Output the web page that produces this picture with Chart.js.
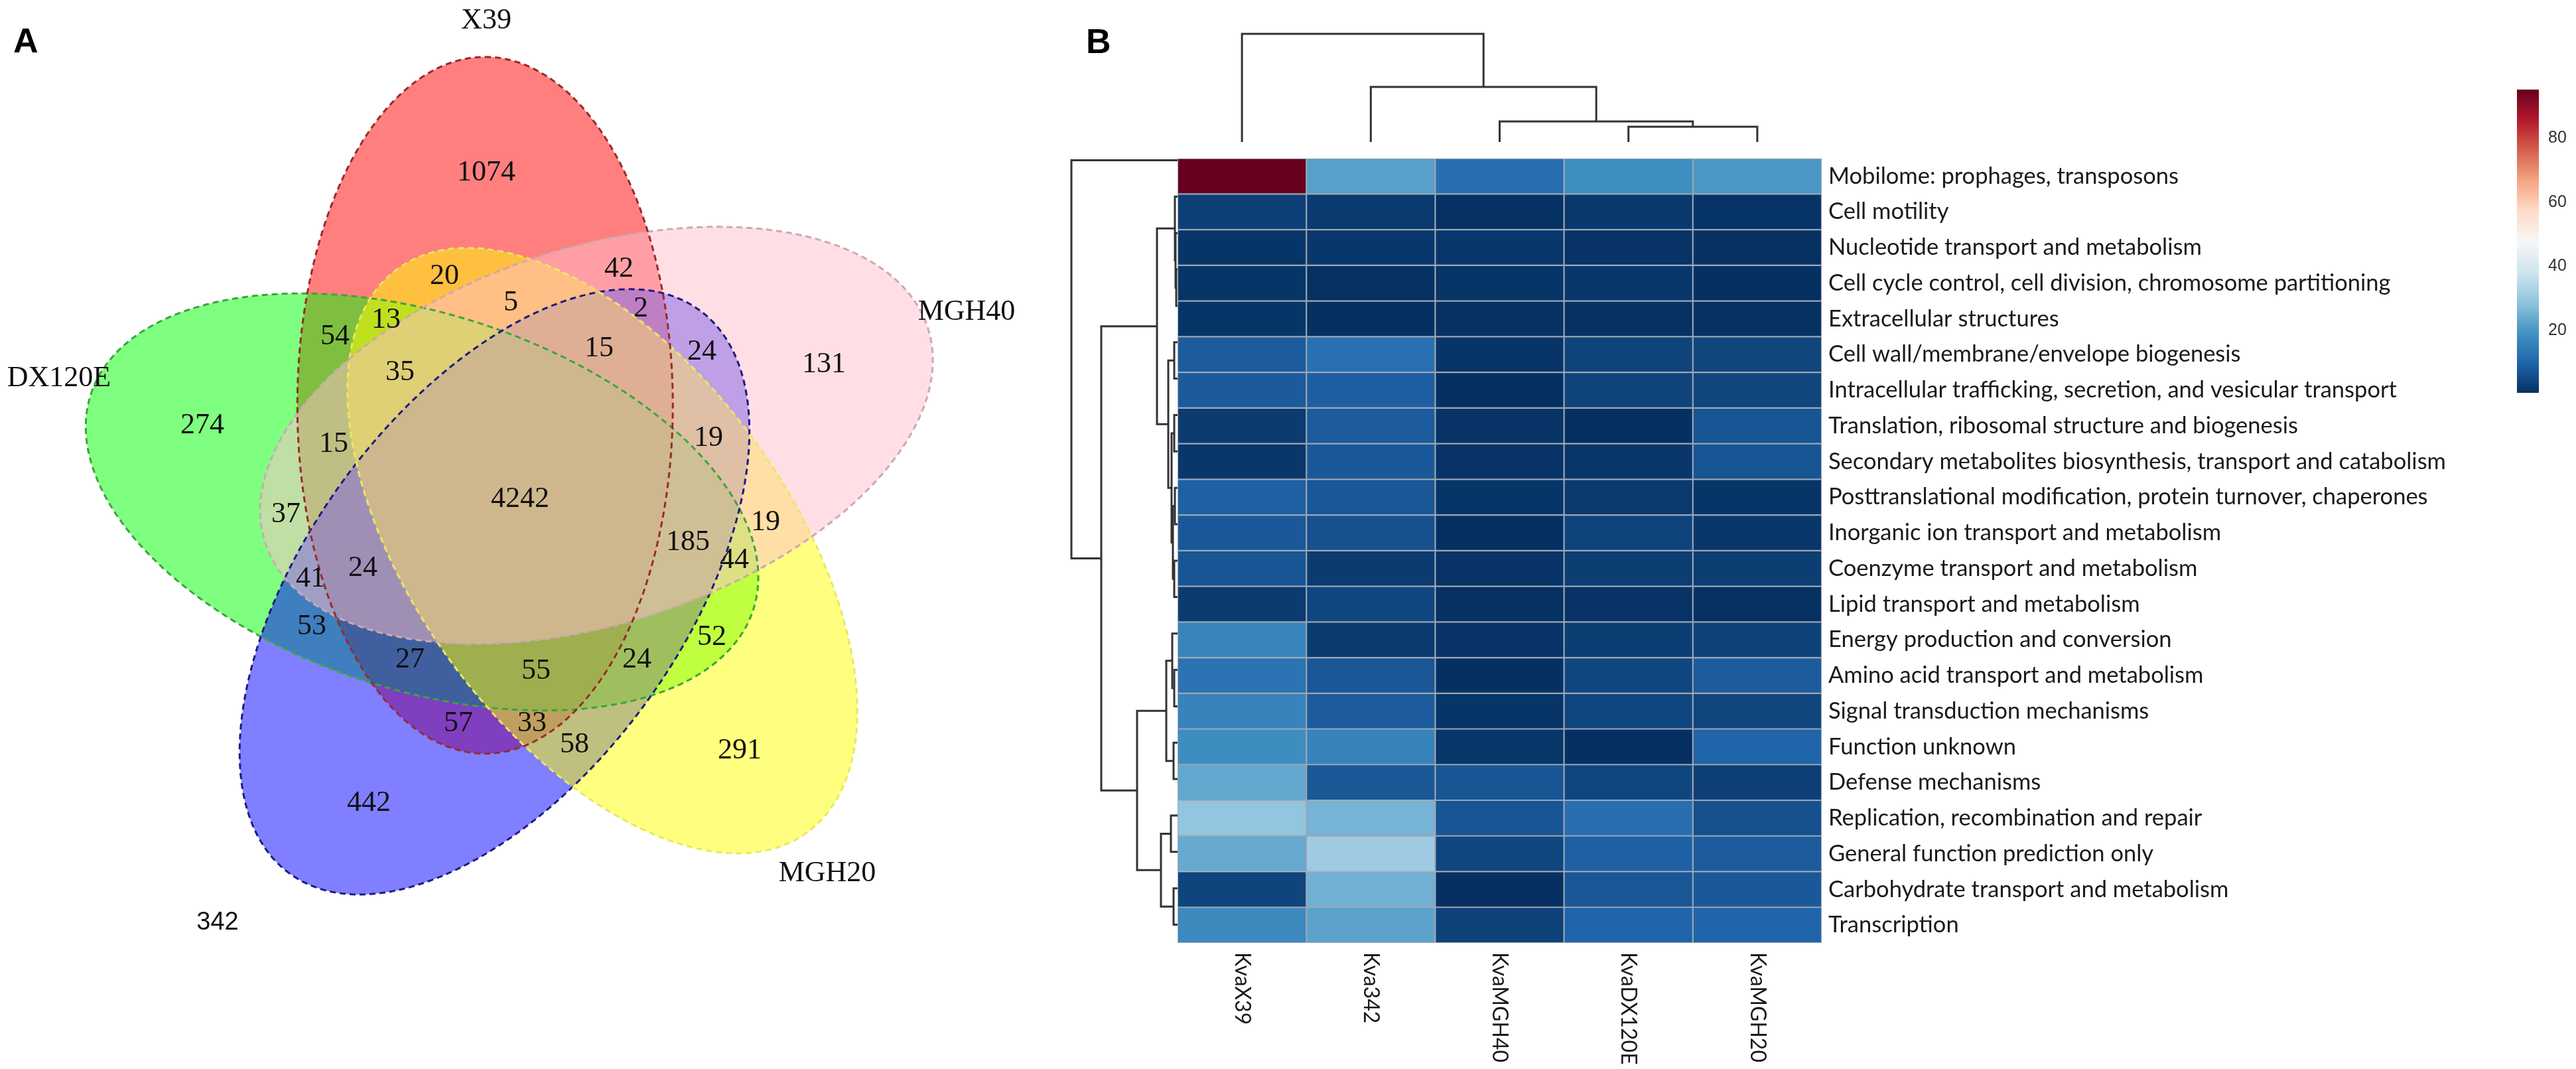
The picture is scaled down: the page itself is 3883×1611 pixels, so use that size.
<!DOCTYPE html>
<html>
<head>
<meta charset="utf-8">
<script src="https://cdn.jsdelivr.net/npm/chart.js@4.4.1/dist/chart.umd.min.js"></script>
<style>
html,body{margin:0;padding:0;background:#ffffff;}
body{width:3883px;height:1611px;position:relative;overflow:hidden;}
canvas{position:absolute;display:block;}
.panel{position:absolute;font-family:"Liberation Sans",Arial,sans-serif;font-weight:bold;font-size:52px;line-height:52px;color:#000;}
</style>
</head>
<body>
<canvas id="venn"></canvas>
<canvas id="colDendro"></canvas>
<canvas id="rowDendro"></canvas>
<canvas id="heat"></canvas>
<canvas id="cbar"></canvas>
<div class="panel" style="left:20px;top:35px">A</div>
<div class="panel" style="left:1637px;top:36px">B</div>
<script>
// ================= DATA =================
// Panel A: five-set Venn diagram
const vennSetNames = ['X39', 'MGH40', 'MGH20', '342', 'DX120E'];
const vennRegionCounts = [1074, 131, 291, 442, 274, 42, 20, 5, 2, 54, 13, 15, 24, 35, 15, 19,
                          4242, 37, 19, 185, 44, 41, 24, 53, 52, 27, 24, 55, 57, 33, 58];

// Panel B: heatmap
const sampleNames = ['KvaX39', 'Kva342', 'KvaMGH40', 'KvaDX120E', 'KvaMGH20'];
const cogCategories = [
  'Mobilome: prophages, transposons',
  'Cell motility',
  'Nucleotide transport and metabolism',
  'Cell cycle control, cell division, chromosome partitioning',
  'Extracellular structures',
  'Cell wall/membrane/envelope biogenesis',
  'Intracellular trafficking, secretion, and vesicular transport',
  'Translation, ribosomal structure and biogenesis',
  'Secondary metabolites biosynthesis, transport and catabolism',
  'Posttranslational modification, protein turnover, chaperones',
  'Inorganic ion transport and metabolism',
  'Coenzyme transport and metabolism',
  'Lipid transport and metabolism',
  'Energy production and conversion',
  'Amino acid transport and metabolism',
  'Signal transduction mechanisms',
  'Function unknown',
  'Defense mechanisms',
  'Replication, recombination and repair',
  'General function prediction only',
  'Carbohydrate transport and metabolism',
  'Transcription'
];
const valKvaX39    = [95, 3.3, 1.6, 1.5, 1.6, 8.3, 8.0, 2.6, 1.9, 9.1, 7.7, 7.2, 2.6, 16.6, 12.9, 16.2, 18.3, 23.3, 29.0, 23.7, 4.2, 17.5];
const valKva342    = [22, 2.5, 2.0, 0.9, 0.8, 12.2, 8.9, 8.3, 7.8, 7.5, 6.3, 2.6, 4.5, 2.4, 7.5, 8.3, 16.2, 7.5, 25.6, 30.8, 25.0, 22.6];
const valKvaMGH40  = [12, 0.9, 1.9, 1.6, 0.9, 1.5, 0.8, 1.3, 1.3, 1.6, 0.8, 1.3, 0.9, 1.3, 0.8, 1.5, 1.7, 7.2, 7.2, 4.5, 0.7, 3.6];
const valKvaDX120E = [18.5, 2.3, 1.3, 1.9, 0.9, 4.0, 4.0, 0.8, 1.9, 2.4, 4.0, 3.0, 1.3, 3.0, 4.5, 4.5, 0.7, 4.5, 12.0, 9.1, 7.5, 9.8];
const valKvaMGH20  = [20.5, 1.4, 1.0, 0.8, 0.9, 4.3, 4.3, 7.2, 7.2, 1.6, 1.9, 3.0, 0.9, 3.6, 8.3, 4.3, 9.8, 3.3, 6.3, 8.3, 7.8, 9.7];
const colorbarRange = [0.7, 95];
const colorbarTicks = [20, 40, 60, 80];
// dendrograms: [mergeHeight, left, right], leaves = column / row index
const colTree = [163, 0, [83, 1, [31, 2, [23, 3, 4]]]];
const rowTree = [160, 0,
  [115,
    [31, [4, 1, [3, 2, [2, 3, 4]]],
         [14, [5, 5, 6], [9, [5, 7, 8], [7, [4, 9, 10], [5, 11, 12]]]]],
    [61, [17, [8, 13, [5, 14, 15]], [6, 16, 17]],
         [25, [10, 18, 19], [6, 20, 21]]]]];

// ================= LAYOUT / STYLE =================
const vennGeom = {cx: 784, cy: 749, r: 148, centerAngle0: -110.9, axisAngle0: -90, semiMajor: 525, semiMinor: 283};
const vennLabelPos = [[733,257],[1242,546],[1115,1128],[556,1207],[305,638],[933,402],[670,413],[770,453],[966,462],
  [505,504],[582,479],[903,522],[1058,527],[603,558],[503,666],[1068,657],[784,749],[431,772],[1154,784],[1037,814],
  [1107,841],[468,869],[547,853],[470,941],[1073,957],[618,991],[960,991],[808,1008],[691,1087],[802,1087],[866,1119]];
const vennSetLabelPos = [[733,28],[1457,467],[1247,1313],[328,1387],[89,567]];
const vennFill = {X39:'rgba(255,0,0,0.5)', MGH40:'rgba(255,192,203,0.5)', MGH20:'rgba(255,255,0,0.5)', '342':'rgba(0,0,255,0.5)', DX120E:'rgba(0,255,0,0.5)'};
const vennLine = {X39:'#9a2a2a', MGH40:'#c9aab2', MGH20:'#e8e860', '342':'#1c1c80', DX120E:'#3aa63a'};
const vennFillOrder = {X39:10, DX120E:9, '342':8, MGH20:7, MGH40:6};
const HM = {left:1775, top:214, right:2746, bottom:1421};

const rdbuStops = ['#053061','#2166ac','#4393c3','#92c5de','#d1e5f0','#f7f7f7','#fddbc7','#f4a582','#d6604d','#b2182b','#67001f'];

function hexToRgb(h){ return [parseInt(h.substr(1,2),16), parseInt(h.substr(3,2),16), parseInt(h.substr(5,2),16)]; }
function rdbu(v){
  let t = (v - colorbarRange[0]) / (colorbarRange[1] - colorbarRange[0]);
  t = Math.max(0, Math.min(1, t));
  const p = t * (rdbuStops.length - 1);
  const i = Math.min(rdbuStops.length - 2, Math.floor(p));
  const f = p - i;
  const a = hexToRgb(rdbuStops[i]), b = hexToRgb(rdbuStops[i+1]);
  return 'rgb(' + a.map((c,k)=>Math.round(c + (b[k]-c)*f)).join(',') + ')';
}

function placeCanvas(id, left, top, w, h){
  const c = document.getElementById(id);
  c.width = w; c.height = h;
  c.style.left = left + 'px'; c.style.top = top + 'px';
  c.style.width = w + 'px'; c.style.height = h + 'px';
  return c;
}
const noPlug = {legend:{display:false}, tooltip:{enabled:false}, title:{display:false}};

// ================= PANEL A : VENN =================
function ellipsePoints(k){
  const ca = (vennGeom.centerAngle0 + 72*k) * Math.PI/180;
  const cx = vennGeom.cx + vennGeom.r*Math.cos(ca), cy = vennGeom.cy + vennGeom.r*Math.sin(ca);
  const phi = (vennGeom.axisAngle0 + 72*k) * Math.PI/180;
  const pts = [];
  const N = 240;
  for (let i = 0; i <= N; i++){
    const t = 2*Math.PI*i/N;
    const u = vennGeom.semiMajor*Math.cos(t), w = vennGeom.semiMinor*Math.sin(t);
    pts.push({x: cx + u*Math.cos(phi) - w*Math.sin(phi), y: cy + u*Math.sin(phi) + w*Math.cos(phi)});
  }
  return pts;
}

const textLabelPlugin = {
  id: 'textLabels',
  afterDatasetsDraw(chart){
    const ctx = chart.ctx;
    chart.data.datasets.forEach((ds, di) => {
      if (!ds.textLabels) return;
      const meta = chart.getDatasetMeta(di);
      ctx.save();
      ctx.font = ds.textFont;
      ctx.fillStyle = ds.textColor;
      ctx.textAlign = 'center';
      ctx.textBaseline = 'alphabetic';
      meta.data.forEach((el, i) => { ctx.fillText(String(ds.textLabels[i]), el.x, el.y + ds.textShift); });
      ctx.restore();
    });
  }
};

const vennDatasets = [];
vennSetNames.forEach((name, k) => {
  const pts = ellipsePoints(k);
  vennDatasets.push({type:'line', label:name + ' fill', data: pts, fill:'shape', backgroundColor: vennFill[name],
    borderWidth:0, pointRadius:0, tension:0, order: vennFillOrder[name], clip:false});
});
vennSetNames.forEach((name, k) => {
  const pts = ellipsePoints(k);
  vennDatasets.push({type:'line', label:name + ' border', data: pts, fill:false, borderColor: vennLine[name],
    borderWidth:3, borderDash:[9,6], pointRadius:0, tension:0, order: 1 + k*0.1, clip:false});
});
vennDatasets.push({type:'line', showLine:false, label:'counts', pointRadius:0, order:0,
  data: vennLabelPos.map(p => ({x:p[0], y:p[1]})), textLabels: vennRegionCounts,
  textFont:'44px "Liberation Serif", "Times New Roman", serif', textColor:'#111', textShift:15});
vennDatasets.push({type:'line', showLine:false, label:'sets', pointRadius:0, order:0,
  data: vennSetLabelPos.slice(0,3).concat([vennSetLabelPos[4]]).map(p => ({x:p[0], y:p[1]})),
  textLabels: [vennSetNames[0], vennSetNames[1], vennSetNames[2], vennSetNames[4]],
  textFont:'44px "Liberation Serif", "Times New Roman", serif', textColor:'#111', textShift:15});
vennDatasets.push({type:'line', showLine:false, label:'set342', pointRadius:0, order:0,
  data: [{x:vennSetLabelPos[3][0], y:vennSetLabelPos[3][1]}], textLabels: [vennSetNames[3]],
  textFont:'38px "Liberation Sans", Arial, sans-serif', textColor:'#111', textShift:14});

new Chart(placeCanvas('venn', 0, 0, 1650, 1611), {
  type:'line',
  data:{datasets: vennDatasets},
  options:{responsive:false, animation:false, devicePixelRatio:1, events:[],
    layout:{padding:0},
    scales:{x:{type:'linear', min:0, max:1650, display:false}, y:{type:'linear', min:0, max:1611, reverse:true, display:false}},
    plugins: noPlug},
  plugins:[textLabelPlugin]
});

// ================= PANEL B : DENDROGRAMS =================
function buildSegments(tree, out){
  if (typeof tree === 'number') return {pos: tree + 0.5, h: 0};
  const [h, a, b] = tree;
  const L = buildSegments(a, out), R = buildSegments(b, out);
  out.push([{p:L.pos, h:L.h}, {p:L.pos, h:h}, {p:R.pos, h:h}, {p:R.pos, h:R.h}]);
  return {pos:(L.pos + R.pos)/2, h:h};
}
const lineStyle = {borderColor:'#333333', borderWidth:3, pointRadius:0, tension:0, fill:false, clip:false};

const colSegs = []; buildSegments(colTree, colSegs);
new Chart(placeCanvas('colDendro', HM.left - 6, 51 - 6, (HM.right - HM.left) + 12, (HM.top - 51) + 12), {
  type:'line',
  data:{datasets: colSegs.map(s => Object.assign({data: s.map(q => ({x:q.p, y:q.h}))}, lineStyle))},
  options:{responsive:false, animation:false, devicePixelRatio:1, events:[], layout:{padding:6},
    scales:{x:{type:'linear', min:0, max:sampleNames.length, display:false}, y:{type:'linear', min:0, max:colTree[0], display:false}},
    plugins: noPlug}
});

const rowSegs = []; buildSegments(rowTree, rowSegs);
new Chart(placeCanvas('rowDendro', 1615 - 6, HM.top - 6, (HM.left - 1615) + 12, (HM.bottom - HM.top) + 12), {
  type:'line',
  data:{datasets: rowSegs.map(s => Object.assign({data: s.map(q => ({x:q.h, y:q.p}))}, lineStyle))},
  options:{responsive:false, animation:false, devicePixelRatio:1, events:[], layout:{padding:6},
    scales:{x:{type:'linear', min:0, max:rowTree[0], reverse:true, display:false},
            y:{type:'linear', min:0, max:cogCategories.length, reverse:true, display:false}},
    plugins: noPlug}
});

// ================= PANEL B : HEATMAP =================
const heatValues = [valKvaX39, valKva342, valKvaMGH40, valKvaDX120E, valKvaMGH20];
const labelFont = {family:'Lato', size:34.5};
const colLabelFont = {family:'Lato', size:32};

const colLabelPlugin = {
  id:'colLabels',
  afterDraw(chart){
    const ctx = chart.ctx, xs = chart.scales.x, ca = chart.chartArea;
    ctx.save();
    ctx.font = colLabelFont.size + 'px ' + colLabelFont.family;
    ctx.fillStyle = '#1a1a1a';
    ctx.textAlign = 'left';
    ctx.textBaseline = 'middle';
    sampleNames.forEach((s, c) => {
      ctx.save();
      ctx.translate(xs.getPixelForValue(c + 0.5), ca.bottom + 14);
      ctx.rotate(Math.PI/2);
      ctx.fillText(s, 0, 0);
      ctx.restore();
    });
    ctx.restore();
  }
};

const heatLeft = HM.left - 6, heatTop = HM.top - 6, heatW = 3760 - heatLeft, heatH = 1611 - heatTop;
new Chart(placeCanvas('heat', heatLeft, heatTop, heatW, heatH), {
  type:'bar',
  data:{labels: cogCategories,
    datasets: sampleNames.map((s, c) => ({
      label: s,
      data: cogCategories.map(() => [c, c + 1]),
      backgroundColor: heatValues[c].map(rdbu),
      borderColor:'#9ea6b4', borderWidth:1.4, borderSkipped:false,
      barPercentage:1, categoryPercentage:1, grouped:false
    }))},
  options:{indexAxis:'y', responsive:false, animation:false, devicePixelRatio:1, events:[],
    layout:{padding:{left:6, top:6, right:0, bottom: heatH - 6 - (HM.bottom - HM.top)}},
    scales:{
      x:{type:'linear', min:0, max:sampleNames.length, display:false},
      y:{type:'category', position:'right', offset:true,
         grid:{display:false, drawTicks:false}, border:{display:false},
         ticks:{autoSkip:false, padding:10, color:'#1a1a1a', font:labelFont},
         afterFit(scale){ scale.width = heatW - (HM.right - heatLeft); }}
    },
    plugins: noPlug},
  plugins:[colLabelPlugin]
});

// ================= COLOUR BAR =================
const cbTop = 112, cbBottom = 615, cbLeft = 3794, cbRight = 3827;
new Chart(placeCanvas('cbar', cbLeft, cbTop - 6, 3883 - cbLeft, (cbBottom - cbTop) + 12), {
  type:'bar',
  data:{labels:['scale'], datasets:[{
    data:[colorbarRange],
    backgroundColor(ctx){
      const ch = ctx.chart, ca = ch.chartArea;
      if (!ca) return '#888';
      const g = ch.ctx.createLinearGradient(0, ca.bottom, 0, ca.top);
      rdbuStops.forEach((c, i) => g.addColorStop(i/(rdbuStops.length - 1), c));
      return g;
    },
    borderWidth:0, barPercentage:1, categoryPercentage:1
  }]},
  options:{responsive:false, animation:false, devicePixelRatio:1, events:[],
    layout:{padding:{top:6, bottom:6, left:0, right:0}},
    scales:{
      x:{display:false},
      y:{type:'linear', position:'right', min:colorbarRange[0], max:colorbarRange[1],
         grid:{display:false, drawTicks:false}, border:{display:false},
         ticks:{padding:14, color:'#333', font:{family:'Liberation Sans', size:25}},
         afterBuildTicks(scale){ scale.ticks = colorbarTicks.map(v => ({value:v})); },
         afterFit(scale){ scale.width = (3883 - cbLeft) - (cbRight - cbLeft); }}
    },
    plugins: noPlug}
});
</script>
</body>
</html>
